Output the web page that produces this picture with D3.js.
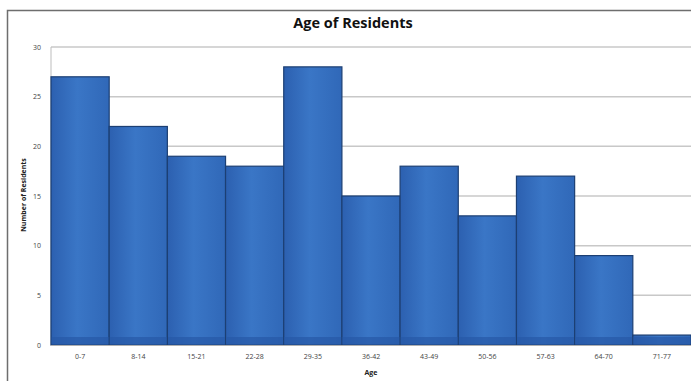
<!DOCTYPE html>
<html>
<head>
<meta charset="utf-8">
<script src="https://cdn.jsdelivr.net/npm/d3@7/dist/d3.min.js"></script>
<style>
  html, body { margin: 0; padding: 0; background: #fff; }
  svg { display: block; }
  text { font-family: "Open Sans", "Liberation Sans", sans-serif; }
</style>
</head>
<body>
<svg id="chart" width="691" height="381"></svg>
<script>
// Histogram data: age bins and resident counts
const ageBins = ["0-7", "8-14", "15-21", "22-28", "29-35", "36-42", "43-49", "50-56", "57-63", "64-70", "71-77"];
const residentCounts = [27, 22, 19, 18, 28, 15, 18, 13, 17, 9, 1];
const yTicks = [0, 5, 10, 15, 20, 25, 30];

const svg = d3.select("#chart");
const W = 691, H = 381;
const plot = { left: 51, right: 691, top: 47, bottom: 345 };

// Outer chart frame (runs past the right and bottom edges)
svg.append("rect")
  .attr("x", 7.5).attr("y", 10.5)
  .attr("width", W).attr("height", H)
  .attr("fill", "#fff").attr("stroke", "#6e6e6e").attr("stroke-width", 1.5);

const x = d3.scaleBand().domain(ageBins).range([plot.left, plot.right]).padding(0);
const y = d3.scaleLinear().domain([0, 30]).range([plot.bottom, plot.top]);

// Bar fill: soft horizontal sheen
const defs = svg.append("defs");
const grad = defs.append("linearGradient").attr("id", "barFill")
  .attr("x1", "0%").attr("x2", "100%").attr("y1", "0%").attr("y2", "0%");
grad.append("stop").attr("offset", "0%").attr("stop-color", "#2c60b0");
grad.append("stop").attr("offset", "45%").attr("stop-color", "#3a76c6");
grad.append("stop").attr("offset", "100%").attr("stop-color", "#3068b8");

// Gridlines
svg.append("g")
  .selectAll("line")
  .data(yTicks.filter(d => d > 0))
  .join("line")
  .attr("x1", plot.left).attr("x2", plot.right)
  .attr("y1", d => y(d)).attr("y2", d => y(d))
  .attr("stroke", "#c8c8c8").attr("stroke-width", 1.5);

// Y axis line
svg.append("line")
  .attr("x1", plot.left).attr("x2", plot.left)
  .attr("y1", plot.top).attr("y2", plot.bottom)
  .attr("stroke", "#bdbdbd").attr("stroke-width", 1);

// Bars
svg.append("g")
  .selectAll("rect")
  .data(ageBins)
  .join("rect")
  .attr("x", d => x(d))
  .attr("y", (d, i) => y(residentCounts[i]))
  .attr("width", x.bandwidth())
  .attr("height", (d, i) => y(0) - y(residentCounts[i]))
  .attr("fill", "url(#barFill)")
  .attr("stroke", "#1c3f73").attr("stroke-width", 1.2);

// Darker base band along the bottom of the bars
svg.append("g")
  .selectAll("rect")
  .data(ageBins)
  .join("rect")
  .attr("x", d => x(d) + 0.6)
  .attr("y", y(0) - 8)
  .attr("width", x.bandwidth() - 1.2)
  .attr("height", 7.4)
  .attr("fill", "#2658a6").attr("opacity", 0.7);

// X baseline
svg.append("line")
  .attr("x1", plot.left).attr("x2", plot.right)
  .attr("y1", y(0) + 0.5).attr("y2", y(0) + 0.5)
  .attr("stroke", "#b0b0b0").attr("stroke-width", 1);

// Y axis tick labels
const yAxis = d3.axisLeft(y).tickValues(yTicks).tickSize(0).tickPadding(10);
const gy = svg.append("g").attr("transform", `translate(${plot.left},0)`).call(yAxis);
gy.select(".domain").remove();
gy.selectAll("text").attr("font-size", 7).attr("fill", "#444")
  .style("font-family", "'Open Sans', sans-serif");

// X axis tick labels
const xAxis = d3.axisBottom(x).tickSize(0).tickPadding(9);
const gx = svg.append("g").attr("transform", `translate(0,${plot.bottom})`).call(xAxis);
gx.select(".domain").remove();
gx.selectAll("text").attr("font-size", 7).attr("fill", "#444")
  .style("font-family", "'Open Sans', sans-serif");

// Title
svg.append("text")
  .attr("x", 353).attr("y", 28)
  .attr("text-anchor", "middle")
  .attr("font-size", 14.5).attr("font-weight", "bold").attr("fill", "#111")
  .text("Age of Residents");

// Axis titles
svg.append("text")
  .attr("x", 371).attr("y", 375)
  .attr("text-anchor", "middle")
  .attr("font-size", 7).attr("font-weight", "bold").attr("fill", "#222")
  .text("Age");

svg.append("text")
  .attr("transform", "translate(26,195) rotate(-90)")
  .attr("text-anchor", "middle")
  .attr("font-size", 7).attr("font-weight", "bold").attr("fill", "#222")
  .text("Number of Residents");
</script>
</body>
</html>
